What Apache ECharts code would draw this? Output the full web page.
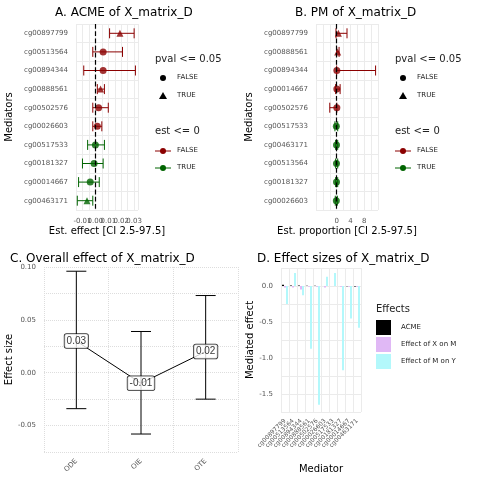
<!DOCTYPE html>
<html><head><meta charset="utf-8">
<script src="https://cdn.jsdelivr.net/npm/echarts@6/dist/echarts.min.js"></script>
<style>html,body{margin:0;background:#fff}#c{width:480px;height:480px}</style>
</head><body><div id="c"></div>
<script>
// panel A data
const medA = ["cg00897799","cg00513564","cg00894344","cg00888561","cg00502576","cg00026603","cg00517533","cg00181327","cg00014667","cg00463171"];
const estA = [0.019, 0.006, 0.006, 0.004, 0.0025, 0.0015, 0.0, -0.001, -0.004, -0.0065];
const loA = [0.011, -0.002, -0.009, 0.0015, -0.002, -0.002, -0.006, -0.01, -0.013, -0.014];
const hiA = [0.030, 0.021, 0.031, 0.007, 0.010, 0.005, 0.007, 0.006, 0.003, -0.002];
const pvalA = [true, false, false, true, false, false, false, false, false, true];
const negA = [false, false, false, false, false, false, true, true, true, true];
// panel B data
const medB = ["cg00897799","cg00888561","cg00894344","cg00014667","cg00502576","cg00517533","cg00463171","cg00513564","cg00181327","cg00026603"];
const estB = [0.5, 0.3, 0.05, 0.05, 0.05, -0.1, -0.05, -0.05, -0.05, -0.1];
const loB = [-0.2, 0.0, 0.0, -0.3, -2.0, -0.5, -0.3, -0.3, -0.3, -0.4];
const hiB = [3.0, 0.7, 11.3, 1.0, 0.05, 0.3, 0.3, 0.3, 0.3, 0.2];
const pvalB = [true, true, false, false, false, false, false, false, false, false];
const negB = [false, false, false, false, false, true, true, true, true, true];
// panel C data
const effC = ["ODE", "OIE", "OTE"];
const estC = [0.03, -0.01, 0.02];
const loC = [-0.034, -0.058, -0.025];
const hiC = [0.096, 0.039, 0.073];
// panel D data
const medD = medA;
const acmeD = [0.019, 0.006, 0.006, 0.004, 0.0025, 0.0015, 0.0, -0.001, -0.004, -0.0065];
const xOnM = [-0.02, -0.02, -0.05, -0.01, -0.01, -0.02, 0.0, -0.01, -0.01, -0.01];
const mOnY = [-0.25, 0.18, -0.13, -0.87, -1.65, 0.13, 0.18, -1.17, -0.45, -0.58];

const RED = "#8b0000", GREEN = "#006400";
const axisTxt = { color: "#555", fontSize: 7, fontFamily: "DejaVu Sans" };
const gridLine = { lineStyle: { color: "#ebebeb" } };

function errSeries(idx, lo, hi, neg) {
  return {
    type: "custom", xAxisIndex: idx, yAxisIndex: idx,
    data: lo.map((l, i) => [l, hi[i], i]),
    renderItem: (p, api) => {
      const i = api.value(2);
      const a = api.coord([api.value(0), i]);
      const b = api.coord([api.value(1), i]);
      const c = neg[i] ? GREEN : RED;
      const h = 5;
      return { type: "group", children: [
        { type: "line", shape: { x1: a[0], y1: a[1], x2: b[0], y2: b[1] }, style: { stroke: c, lineWidth: 1 } },
        { type: "line", shape: { x1: a[0], y1: a[1] - h, x2: a[0], y2: a[1] + h }, style: { stroke: c, lineWidth: 1 } },
        { type: "line", shape: { x1: b[0], y1: b[1] - h, x2: b[0], y2: b[1] + h }, style: { stroke: c, lineWidth: 1 } }
      ]};
    }, z: 2
  };
}
function ptSeries(idx, est, pval, neg) {
  return {
    type: "scatter", xAxisIndex: idx, yAxisIndex: idx, z: 3,
    data: est.map((v, i) => ({ value: [v, i], symbol: pval[i] ? "triangle" : "circle",
      symbolSize: 7, itemStyle: { color: neg[i] ? GREEN : RED } })),
    markLine: { silent: true, symbol: "none", label: { show: false },
      lineStyle: { color: "#000", type: "dashed", width: 1.2 }, data: [{ xAxis: 0 }] }
  };
}
function legendAB(x) {
  const t = (y, s) => ({ type: "text", left: x, top: y, style: { text: s, fontSize: 10, fill: "#222", fontFamily: "DejaVu Sans" } });
  const sm = (y, s) => ({ type: "text", left: x + 22, top: y, style: { text: s, fontSize: 7, fill: "#222", fontFamily: "DejaVu Sans" } });
  return [
    t(54, "pval <= 0.05"),
    { type: "circle", shape: { cx: x + 8, cy: 78, r: 3 }, style: { fill: "#000" } },
    sm(74, "FALSE"),
    { type: "polygon", shape: { points: [[x + 8, 92], [x + 4, 99], [x + 12, 99]] }, style: { fill: "#000" } },
    sm(92, "TRUE"),
    t(126, "est <= 0"),
    { type: "line", shape: { x1: x, y1: 151, x2: x + 16, y2: 151 }, style: { stroke: RED } },
    { type: "circle", shape: { cx: x + 8, cy: 151, r: 3 }, style: { fill: RED } },
    sm(147, "FALSE"),
    { type: "line", shape: { x1: x, y1: 168, x2: x + 16, y2: 168 }, style: { stroke: GREEN } },
    { type: "circle", shape: { cx: x + 8, cy: 168, r: 3 }, style: { fill: GREEN } },
    sm(164, "TRUE")
  ];
}
function legendD(x) {
  const sm = (y, s) => ({ type: "text", left: x + 25, top: y, style: { text: s, fontSize: 7, fill: "#222", fontFamily: "DejaVu Sans" } });
  return [
    { type: "text", left: x, top: 304, style: { text: "Effects", fontSize: 10, fill: "#222", fontFamily: "DejaVu Sans" } },
    { type: "rect", shape: { x: x, y: 320, width: 15, height: 15 }, style: { fill: "#000" } },
    sm(324, "ACME"),
    { type: "rect", shape: { x: x, y: 337, width: 15, height: 15 }, style: { fill: "#e0b8f5" } },
    sm(341, "Effect of X on M"),
    { type: "rect", shape: { x: x, y: 354, width: 15, height: 15 }, style: { fill: "#b3f8fb" } },
    sm(358, "Effect of M on Y")
  ];
}
const title = (x, y, s) => ({ text: s, left: x, top: y, textStyle: { fontSize: 12, fontWeight: "normal", color: "#000", fontFamily: "DejaVu Sans" } });
const nameStyle = { fontSize: 10, color: "#000", fontFamily: "DejaVu Sans" };
const boxLabel = { show: true, position: "inside", formatter: p => p.value.toFixed(2), fontSize: 10, color: "#000",
  backgroundColor: "#fff", borderColor: "#000", borderWidth: 0.8, borderRadius: 2, padding: [2, 2] };

const chart = echarts.init(document.getElementById("c"));
chart.setOption({
  animation: false,
  title: [title(50, 2, "A. ACME of X_matrix_D"), title(290, 2, "B. PM of X_matrix_D"),
          title(5, 248, "C. Overall effect of X_matrix_D"), title(252, 248, "D. Effect sizes of X_matrix_D")],
  grid: [
    { left: 76, top: 24, width: 62, height: 186 },
    { left: 316, top: 24, width: 62, height: 186 },
    { left: 44, top: 267, width: 194, height: 185 },
    { left: 281, top: 268, width: 80, height: 144 }
  ],
  xAxis: [
    { gridIndex: 0, type: "value", min: -0.015, max: 0.033, interval: 0.005,
      axisLabel: { ...axisTxt, formatter: v => (Math.abs(v * 100 - Math.round(v * 100)) < 1e-6 ? v.toFixed(2) : "") },
      splitLine: gridLine, axisLine: { show: false }, axisTick: { show: false },
      name: "Est. effect [CI 2.5-97.5]", nameLocation: "middle", nameGap: 16, nameTextStyle: nameStyle },
    { gridIndex: 1, type: "value", min: -6, max: 12, interval: 2,
      axisLabel: { ...axisTxt, formatter: v => (v >= 0 && v <= 8 && v % 4 === 0 ? String(v) : "") },
      splitLine: gridLine, axisLine: { show: false }, axisTick: { show: false },
      name: "Est. proportion [CI 2.5-97.5]", nameLocation: "middle", nameGap: 16, nameTextStyle: nameStyle },
    { gridIndex: 2, type: "category", data: effC, boundaryGap: true,
      axisLabel: { ...axisTxt, rotate: 45 }, axisLine: { show: false }, axisTick: { show: false },
      splitLine: { show: true, lineStyle: { color: "#ddd", type: "dotted" } } },
    { gridIndex: 3, type: "category", data: medD,
      axisLabel: { ...axisTxt, rotate: 45, interval: 0, fontSize: 6 }, axisLine: { show: false }, axisTick: { show: false },
      splitLine: { show: true, interval: 0, lineStyle: { color: "#ebebeb" } },
      name: "Mediator", nameLocation: "middle", nameGap: 52, nameTextStyle: nameStyle }
  ],
  yAxis: [
    { gridIndex: 0, type: "category", data: medA, inverse: true, axisLabel: axisTxt,
      axisLine: { show: false }, axisTick: { show: false }, splitLine: { show: true, ...gridLine },
      name: "Mediators", nameLocation: "middle", nameGap: 62, nameTextStyle: nameStyle },
    { gridIndex: 1, type: "category", data: medB, inverse: true, axisLabel: axisTxt,
      axisLine: { show: false }, axisTick: { show: false }, splitLine: { show: true, ...gridLine },
      name: "Mediators", nameLocation: "middle", nameGap: 62, nameTextStyle: nameStyle },
    { gridIndex: 2, type: "value", min: -0.075, max: 0.1, interval: 0.025,
      axisLabel: { ...axisTxt, formatter: v => (Math.abs(v * 20 - Math.round(v * 20)) < 1e-6 ? v.toFixed(2) : "") },
      splitLine: { lineStyle: { color: "#ddd", type: "dotted" } },
      name: "Effect size", nameLocation: "middle", nameGap: 30, nameTextStyle: nameStyle },
    { gridIndex: 3, type: "value", min: -1.75, max: 0.25, interval: 0.25,
      axisLabel: { ...axisTxt, formatter: v => (Math.abs(v * 2 - Math.round(v * 2)) < 1e-6 ? v.toFixed(1) : "") },
      splitLine: gridLine,
      name: "Mediated effect", nameLocation: "middle", nameGap: 22, nameTextStyle: nameStyle }
  ],
  series: [
    errSeries(0, loA, hiA, negA), ptSeries(0, estA, pvalA, negA),
    errSeries(1, loB, hiB, negB), ptSeries(1, estB, pvalB, negB),
    { type: "custom", xAxisIndex: 2, yAxisIndex: 2, data: effC.map((e, i) => [i, loC[i], hiC[i]]),
      renderItem: (p, api) => {
        const a = api.coord([api.value(0), api.value(1)]);
        const b = api.coord([api.value(0), api.value(2)]);
        const s = { stroke: "#000", lineWidth: 1 };
        return { type: "group", children: [
          { type: "line", shape: { x1: a[0], y1: a[1], x2: b[0], y2: b[1] }, style: s },
          { type: "line", shape: { x1: a[0] - 10, y1: a[1], x2: a[0] + 10, y2: a[1] }, style: s },
          { type: "line", shape: { x1: b[0] - 10, y1: b[1], x2: b[0] + 10, y2: b[1] }, style: s }
        ]};
      } },
    { type: "line", xAxisIndex: 2, yAxisIndex: 2, data: estC, showSymbol: false,
      lineStyle: { color: "#000", width: 1 }, z: 4 },
    { type: "scatter", xAxisIndex: 2, yAxisIndex: 2, data: estC, symbolSize: 1, label: boxLabel, z: 6 },
    { type: "bar", xAxisIndex: 3, yAxisIndex: 3, data: acmeD, barWidth: 2, barGap: "0%", itemStyle: { color: "#000" } },
    { type: "bar", xAxisIndex: 3, yAxisIndex: 3, data: xOnM, barWidth: 2, barGap: "0%", itemStyle: { color: "#e0b8f5" } },
    { type: "bar", xAxisIndex: 3, yAxisIndex: 3, data: mOnY, barWidth: 2, barGap: "0%", itemStyle: { color: "#b3f8fb" } }
  ],
  graphic: [...legendAB(155), ...legendAB(395), ...legendD(376)]
});
</script></body></html>
